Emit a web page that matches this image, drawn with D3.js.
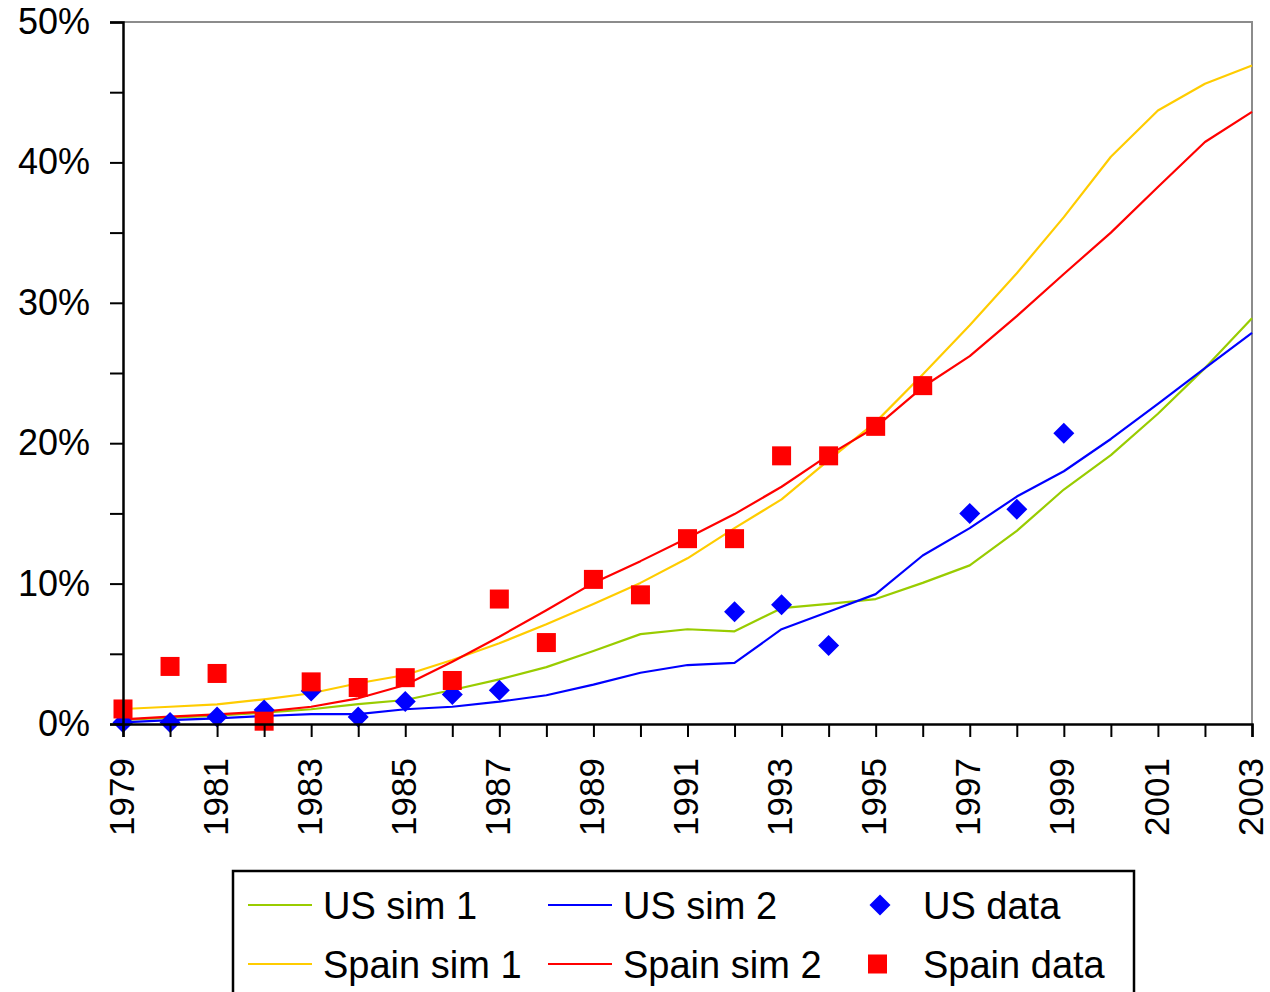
<!DOCTYPE html>
<html>
<head>
<meta charset="utf-8">
<script src="https://cdn.jsdelivr.net/npm/d3@7"></script>
<style>
  html, body { margin: 0; padding: 0; background: #fff; }
  svg { display: block; font-family: "Liberation Sans", Arial, sans-serif; }
</style>
</head>
<body>
<svg id="chart" width="1270" height="992"></svg>
<script>
// Years on the horizontal axis
const years = d3.range(1979, 2004);

// Simulated shares (%) per year, 1979–2003
const usSim1 = [0.3, 0.45, 0.6, 0.8, 1.05, 1.42, 1.71, 2.42, 3.18, 4.05, 5.2, 6.4, 6.75, 6.6, 8.25, 8.55, 8.9, 10.05, 11.3, 13.75, 16.7, 19.15, 22.1, 25.35, 28.9];
const usSim2 = [0.12, 0.28, 0.4, 0.57, 0.71, 0.71, 1.05, 1.23, 1.59, 2.05, 2.8, 3.65, 4.2, 4.35, 6.75, 8.0, 9.25, 12.0, 13.95, 16.2, 18.0, 20.3, 22.8, 25.35, 27.85];
const spainSim1 = [1.07, 1.23, 1.4, 1.76, 2.19, 2.9, 3.49, 4.56, 5.75, 7.1, 8.55, 10.05, 11.8, 13.95, 16.0, 18.8, 21.5, 24.9, 28.4, 32.1, 36.1, 40.4, 43.7, 45.6, 46.9];
const spainSim2 = [0.33, 0.52, 0.69, 0.88, 1.23, 1.83, 2.78, 4.44, 6.22, 8.1, 10.05, 11.6, 13.25, 14.95, 16.9, 19.15, 21.15, 24.0, 26.2, 29.05, 32.05, 35.0, 38.25, 41.45, 43.6];

// Observed data (%), only for the years available
const usDataYears = [1979, 1980, 1981, 1982, 1983, 1984, 1985, 1986, 1987, 1992, 1993, 1994, 1997, 1998, 1999];
const usData      = [0.1, 0.1, 0.5, 1.0, 2.35, 0.5, 1.6, 2.1, 2.4, 8.0, 8.5, 5.6, 15.0, 15.3, 20.7];
const spainDataYears = d3.range(1979, 1997);
const spainData      = [1.07, 4.1, 3.6, 0.2, 3.0, 2.6, 3.3, 3.1, 8.9, 5.8, 10.3, 9.2, 13.2, 13.2, 19.1, 19.1, 21.2, 24.1];

// Axis ticks
const yTicks = d3.range(0, 51, 5);
const yLabelTicks = [0, 10, 20, 30, 40, 50];
const xLabelYears = years.filter(y => y % 2 === 1);

const svg = d3.select("#chart");

const x = d3.scaleLinear().domain([1979, 2003]).range([123, 1252]);
const y = d3.scaleLinear().domain([0, 50]).range([724, 22]);

// Plot frame: grey top and right edges
svg.append("path")
  .attr("d", `M${x(1979)},${y(50)}H${x(2003)}V${y(0)}`)
  .attr("fill", "none").attr("stroke", "#8c8c8c").attr("stroke-width", 2);

// Series lines
const series = [
  { name: "US sim 1", values: usSim1, color: "#99cc00" },
  { name: "US sim 2", values: usSim2, color: "#0000ff" },
  { name: "Spain sim 1", values: spainSim1, color: "#ffcc00" },
  { name: "Spain sim 2", values: spainSim2, color: "#ff0000" }
];
const line = d3.line().x((d, i) => x(years[i])).y(d => y(d));
svg.append("g").selectAll("path").data(series).join("path")
  .attr("d", d => line(d.values))
  .attr("fill", "none")
  .attr("stroke", d => d.color)
  .attr("stroke-width", 2.2)
  .attr("stroke-linejoin", "round");

// US data: diamonds
const diamond = (cx, cy, rx, ry) => `M${cx},${cy - ry}L${cx + rx},${cy}L${cx},${cy + ry}L${cx - rx},${cy}Z`;
svg.append("g").selectAll("path").data(usDataYears).join("path")
  .attr("d", (d, i) => diamond(x(d), y(usData[i]), 10.5, 10.5))
  .attr("fill", "#0000ff");

// Spain data: squares
svg.append("g").selectAll("rect").data(spainDataYears).join("rect")
  .attr("x", d => x(d) - 9.5)
  .attr("y", (d, i) => y(spainData[i]) - 9.5)
  .attr("width", 19).attr("height", 19)
  .attr("fill", "#ff0000");

// Y axis
const yAxis = svg.append("g")
  .attr("transform", `translate(${x(1979)},0)`)
  .call(d3.axisLeft(y).tickValues(yTicks).tickSize(13).tickPadding(20)
    .tickFormat(d => yLabelTicks.includes(d) ? d + "%" : ""));
yAxis.select(".domain").attr("stroke", "#000").attr("stroke-width", 2.5);
yAxis.selectAll(".tick line").attr("stroke", "#000").attr("stroke-width", 2);
yAxis.selectAll(".tick text")
  .attr("font-size", 36).attr("fill", "#000")
  .attr("font-family", "Liberation Sans, Arial, sans-serif");

// X axis
const xAxis = svg.append("g")
  .attr("transform", `translate(0,${y(0)})`)
  .call(d3.axisBottom(x).tickValues(years).tickSize(13)
    .tickFormat(d => xLabelYears.includes(d) ? String(d) : ""));
xAxis.select(".domain").attr("stroke", "#000").attr("stroke-width", 2.5);
xAxis.selectAll(".tick line").attr("stroke", "#000").attr("stroke-width", 2);
xAxis.selectAll(".tick text")
  .attr("font-size", 35).attr("fill", "#000")
  .attr("font-family", "Liberation Sans, Arial, sans-serif")
  .attr("transform", "rotate(-90)")
  .attr("text-anchor", "end")
  .attr("x", -34).attr("y", 0).attr("dy", "0.29em");

// Legend
const legend = svg.append("g");
legend.append("rect")
  .attr("x", 233).attr("y", 871).attr("width", 901).attr("height", 150)
  .attr("fill", "#fff").attr("stroke", "#000").attr("stroke-width", 2.5);

const legendItems = [
  { label: "US sim 1", type: "line", color: "#99cc00", col: 0, row: 0 },
  { label: "US sim 2", type: "line", color: "#0000ff", col: 1, row: 0 },
  { label: "US data", type: "diamond", color: "#0000ff", col: 2, row: 0 },
  { label: "Spain sim 1", type: "line", color: "#ffcc00", col: 0, row: 1 },
  { label: "Spain sim 2", type: "line", color: "#ff0000", col: 1, row: 1 },
  { label: "Spain data", type: "square", color: "#ff0000", col: 2, row: 1 }
];
const colX = [248, 548, 848];
const rowY = [905, 964];

const li = legend.selectAll("g.item").data(legendItems).join("g")
  .attr("class", "item")
  .attr("transform", d => `translate(${colX[d.col]},${rowY[d.row]})`);

li.filter(d => d.type === "line").append("line")
  .attr("x1", 0).attr("x2", 64).attr("y1", 0).attr("y2", 0)
  .attr("stroke", d => d.color).attr("stroke-width", 2.2);
li.filter(d => d.type === "diamond").append("path")
  .attr("d", diamond(32, 0, 10.5, 10.5))
  .attr("fill", d => d.color);
li.filter(d => d.type === "square").append("rect")
  .attr("x", 20).attr("y", -9.5).attr("width", 19).attr("height", 19)
  .attr("fill", d => d.color);
li.append("text")
  .attr("x", 75).attr("y", 0).attr("dy", "0.36em")
  .attr("font-size", 38)
  .attr("fill", "#000")
  .text(d => d.label);
</script>
</body>
</html>
